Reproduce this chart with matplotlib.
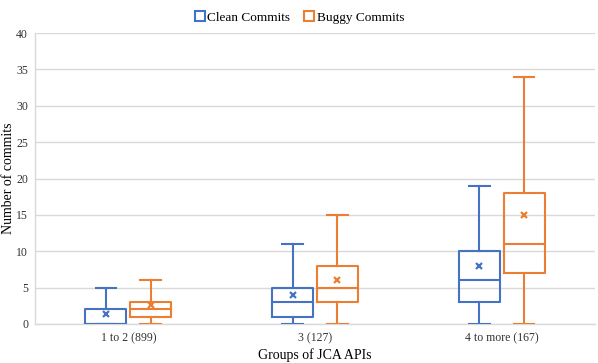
import matplotlib
matplotlib.use("Agg")
import matplotlib.pyplot as plt
from matplotlib.lines import Line2D

plt.rcParams['font.family'] = ['Liberation Serif', 'DejaVu Serif']

groups = ["1 to 2 (899)", "3 (127)", "4 to more (167)"]
series = ["Clean Commits", "Buggy Commits"]
colors = ["#4472C4", "#ED7D31"]

# min, q1, median, q3, max, mean for each group
clean_min = [0, 0, 0]
clean_q1 = [0, 1, 3]
clean_med = [0, 3, 6]
clean_q3 = [2, 5, 10]
clean_max = [5, 11, 19]
clean_mean = [1.4, 4, 8]

buggy_min = [0, 0, 0]
buggy_q1 = [1, 3, 7]
buggy_med = [2, 5, 11]
buggy_q3 = [3, 8, 18]
buggy_max = [6, 15, 34]
buggy_mean = [2.6, 6, 15]


def make_stats(mn, q1, med, q3, mx, mean):
    out = []
    for i in range(len(mn)):
        out.append(dict(whislo=mn[i], q1=q1[i], med=med[i], q3=q3[i],
                        whishi=mx[i], mean=mean[i], fliers=[]))
    return out


fig = plt.figure(figsize=(5.98, 3.63), dpi=100)
ax = fig.add_axes([35 / 598, 1 - 324 / 363, 560 / 598, (324 - 33) / 363])

all_stats = [make_stats(clean_min, clean_q1, clean_med, clean_q3, clean_max, clean_mean),
             make_stats(buggy_min, buggy_q1, buggy_med, buggy_q3, buggy_max, buggy_mean)]
offsets = [-0.12, 0.12]
for stats, off, c in zip(all_stats, offsets, colors):
    pos = [i + off for i in range(len(groups))]
    ax.bxp(stats, positions=pos, widths=0.22, showmeans=True, showfliers=False,
           patch_artist=False,
           boxprops=dict(color=c, linewidth=1.5),
           medianprops=dict(color=c, linewidth=1.5),
           whiskerprops=dict(color=c, linewidth=1.5),
           capprops=dict(color=c, linewidth=1.5),
           capwidths=0.11,
           meanprops=dict(marker='x', markeredgecolor=c, markersize=4.5,
                          markeredgewidth=1.6),
           zorder=3)

ax.set_xlim(-0.5, len(groups) - 0.5)
ax.set_ylim(0, 40)
ax.set_yticks(range(0, 41, 5))
ax.set_xticks(range(len(groups)))
ax.set_xticklabels(groups)
ax.tick_params(axis='both', length=0, labelsize=8.5, colors='#333333')
ax.tick_params(axis='x', pad=6)
ax.tick_params(axis='y', pad=5)
ax.grid(axis='y', color='#D9D9D9', linewidth=1)
ax.set_axisbelow(True)
for s in ['top', 'right']:
    ax.spines[s].set_visible(False)
ax.spines['left'].set_color('#D9D9D9')
ax.spines['bottom'].set_color('#D9D9D9')
ax.spines['left'].set_linewidth(1)
ax.spines['bottom'].set_linewidth(1)

ax.set_ylabel("Number of commits", fontsize=10, va='center')
ax.yaxis.set_label_coords(-26 / 560, 0.5)
ax.set_xlabel("Groups of JCA APIs", fontsize=10, labelpad=3)

handles = [Line2D([], [], linestyle='none', marker='s', markersize=6.5,
                  markerfacecolor='white', markeredgecolor=c, markeredgewidth=1.5)
           for c in colors]
fig.legend(handles, series, loc='upper center', bbox_to_anchor=(0.5, 1.0),
           ncol=2, frameon=False, fontsize=9.5, handletextpad=0.1,
           columnspacing=1.0, handlelength=0.9)

fig.savefig("out.png", dpi=100)
